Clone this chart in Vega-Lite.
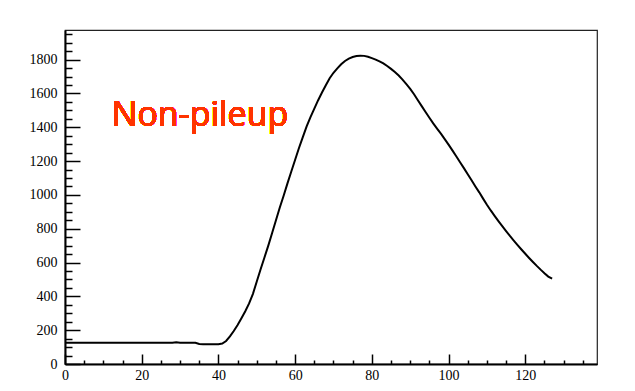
{
  "$schema": "https://vega.github.io/schema/vega-lite/v6.json",
  "width": 532,
  "height": 334,
  "autosize": {"type": "none"},
  "padding": {"left": 65, "top": 30, "right": 38, "bottom": 27},
  "background": "white",
  "config": {
    "view": {"stroke": "#222", "strokeWidth": 1.2},
    "axis": {
      "labelFont": "Liberation Serif",
      "labelFontSize": 14,
      "labelColor": "black",
      "domainColor": "black",
      "domainWidth": 2,
      "tickColor": "black",
      "tickWidth": 1.5,
      "grid": false,
      "labelOverlap": false,
      "labelFlush": false,
      "title": null
    }
  },
  "data": {
    "values": [
      {"x": 0, "y": 125}, {"x": 5, "y": 125}, {"x": 10, "y": 125}, {"x": 15, "y": 125},
      {"x": 20, "y": 125}, {"x": 25, "y": 125}, {"x": 28, "y": 126}, {"x": 29, "y": 129},
      {"x": 30, "y": 126}, {"x": 34, "y": 125}, {"x": 35, "y": 118}, {"x": 36, "y": 117},
      {"x": 38, "y": 117}, {"x": 40, "y": 117}, {"x": 41, "y": 121}, {"x": 42, "y": 136},
      {"x": 43, "y": 163}, {"x": 44, "y": 195}, {"x": 45, "y": 230}, {"x": 46, "y": 270},
      {"x": 47, "y": 312}, {"x": 48, "y": 358}, {"x": 49, "y": 415}, {"x": 50, "y": 488},
      {"x": 51, "y": 560}, {"x": 52, "y": 630}, {"x": 53, "y": 700}, {"x": 54, "y": 775},
      {"x": 55, "y": 850}, {"x": 56, "y": 925}, {"x": 57, "y": 995}, {"x": 58, "y": 1068},
      {"x": 59, "y": 1138}, {"x": 60, "y": 1208}, {"x": 61, "y": 1277}, {"x": 62, "y": 1342},
      {"x": 63, "y": 1405}, {"x": 64, "y": 1460}, {"x": 65, "y": 1510}, {"x": 66, "y": 1560},
      {"x": 67, "y": 1605}, {"x": 68, "y": 1648}, {"x": 69, "y": 1690}, {"x": 70, "y": 1722},
      {"x": 71, "y": 1748}, {"x": 72, "y": 1772}, {"x": 73, "y": 1792}, {"x": 74, "y": 1806},
      {"x": 75, "y": 1815}, {"x": 76, "y": 1821}, {"x": 77, "y": 1823}, {"x": 78, "y": 1822},
      {"x": 79, "y": 1817}, {"x": 80, "y": 1809}, {"x": 81, "y": 1800}, {"x": 82, "y": 1790},
      {"x": 83, "y": 1778}, {"x": 84, "y": 1762}, {"x": 85, "y": 1745}, {"x": 86, "y": 1727},
      {"x": 87, "y": 1706}, {"x": 88, "y": 1682}, {"x": 89, "y": 1655}, {"x": 90, "y": 1627},
      {"x": 91, "y": 1595}, {"x": 92, "y": 1560}, {"x": 93, "y": 1525}, {"x": 94, "y": 1490},
      {"x": 95, "y": 1456}, {"x": 96, "y": 1423}, {"x": 97, "y": 1392}, {"x": 98, "y": 1362},
      {"x": 99, "y": 1330}, {"x": 100, "y": 1297}, {"x": 101, "y": 1263}, {"x": 102, "y": 1228},
      {"x": 103, "y": 1193}, {"x": 104, "y": 1158}, {"x": 105, "y": 1122}, {"x": 106, "y": 1086},
      {"x": 107, "y": 1050}, {"x": 108, "y": 1015}, {"x": 109, "y": 978}, {"x": 110, "y": 942},
      {"x": 111, "y": 908}, {"x": 112, "y": 876}, {"x": 113, "y": 845}, {"x": 114, "y": 815},
      {"x": 115, "y": 786}, {"x": 116, "y": 757}, {"x": 117, "y": 730}, {"x": 118, "y": 703},
      {"x": 119, "y": 677}, {"x": 120, "y": 652}, {"x": 121, "y": 627}, {"x": 122, "y": 603},
      {"x": 123, "y": 580}, {"x": 124, "y": 558}, {"x": 125, "y": 537}, {"x": 126, "y": 517},
      {"x": 127, "y": 505}
    ]
  },
  "resolve": {"axis": {"x": "independent", "y": "independent"}},
  "layer": [
    {
      "mark": {"type": "line", "color": "black", "strokeWidth": 2, "clip": true},
      "encoding": {
        "x": {
          "field": "x", "type": "quantitative",
          "scale": {"domain": [0, 138.7], "nice": false, "zero": false},
          "axis": {
            "orient": "bottom",
            "values": [0, 20, 40, 60, 80, 100, 120],
            "format": "d",
            "tickSize": -10,
            "labelPadding": 14
          }
        },
        "y": {
          "field": "y", "type": "quantitative",
          "scale": {"domain": [0, 1975], "nice": false},
          "axis": {
            "orient": "left",
            "values": [0, 200, 400, 600, 800, 1000, 1200, 1400, 1600, 1800],
            "format": "d",
            "tickSize": -15,
            "labelPadding": 23
          }
        }
      }
    },
    {
      "mark": {"type": "text", "text": "Non-pileup", "font": "Open Sans", "fontSize": 34, "color": "#FF3300", "align": "left", "baseline": "alphabetic"},
      "encoding": {
        "x": {
          "datum": 12.2, "type": "quantitative",
          "axis": {
            "orient": "bottom",
            "values": [5, 10, 15, 25, 30, 35, 45, 50, 55, 65, 70, 75, 85, 90, 95, 105, 110, 115, 125, 130, 135],
            "labels": false,
            "domain": false,
            "tickSize": -4
          }
        },
        "y": {
          "datum": 1408, "type": "quantitative",
          "axis": {
            "orient": "left",
            "values": [50, 100, 150, 250, 300, 350, 450, 500, 550, 650, 700, 750, 850, 900, 950, 1050, 1100, 1150, 1250, 1300, 1350, 1450, 1500, 1550, 1650, 1700, 1750, 1850, 1900, 1950],
            "labels": false,
            "domain": false,
            "tickSize": -7
          }
        }
      }
    }
  ]
}
